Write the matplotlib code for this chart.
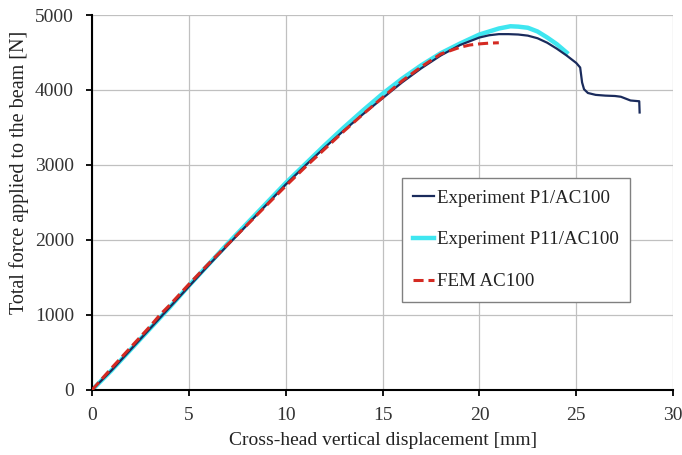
import matplotlib
matplotlib.use("Agg")
import matplotlib.pyplot as plt

# Experiment P1/AC100
p1_x = [0, 1, 2, 3, 4, 5, 6, 7, 8, 9, 10, 11, 12, 13, 14, 15, 16, 17, 18, 19, 20,
        20.5, 21, 21.5, 22, 22.5, 23, 23.5, 24, 24.5, 25, 25.2, 25.3, 25.4, 25.6,
        26, 26.5, 27, 27.3, 27.5, 27.8, 28.25, 28.27]
p1_y = [0, 260, 540, 820, 1100, 1380, 1660, 1930, 2200, 2470, 2740, 2990, 3230, 3460,
        3680, 3890, 4100, 4290, 4460, 4600, 4700, 4730, 4745, 4745, 4740, 4725, 4690,
        4630, 4550, 4460, 4360, 4300, 4100, 4010, 3960, 3935, 3925, 3920, 3910, 3890,
        3860, 3850, 3700]

# Experiment P11/AC100
p11_x = [0, 1, 2, 3, 4, 5, 6, 7, 8, 9, 10, 11, 12, 13, 14, 15, 16, 17, 18, 19, 20,
         21, 21.6, 22, 22.5, 23, 23.5, 24, 24.5]
p11_y = [0, 260, 540, 820, 1100, 1390, 1670, 1950, 2220, 2490, 2760, 3010, 3260, 3500,
         3730, 3950, 4150, 4330, 4490, 4620, 4740, 4820, 4850, 4845, 4830, 4780, 4700,
         4610, 4500]

# FEM AC100
fem_x = [0, 1, 2, 3, 3.5, 4, 5, 6, 7, 8, 9, 10, 11, 12, 13, 14, 15, 16, 17, 18, 19,
         19.5, 20, 20.5, 21]
fem_y = [0, 290, 570, 850, 1000, 1130, 1410, 1680, 1940, 2200, 2460, 2720, 2970, 3210,
         3450, 3680, 3900, 4120, 4310, 4480, 4570, 4600, 4615, 4625, 4630]

labels = ["Experiment P1/AC100", "Experiment P11/AC100", "FEM AC100"]
x_label = "Cross-head vertical displacement [mm]"
y_label = "Total force applied to the beam [N]"

plt.rcParams['font.family'] = ['Liberation Serif', 'DejaVu Serif']

fig = plt.figure(figsize=(6.82, 4.55), dpi=100)
ax = fig.add_axes([0.135, 0.143, 0.852, 0.824])

ax.plot(p1_x, p1_y, color='#1a2b5c', lw=1.6, label=labels[0], zorder=3)
ax.plot(p11_x, p11_y, color='#3fe6f0', lw=3.2, label=labels[1], zorder=2.5)
ax.plot(fem_x, fem_y, color='#d42a22', lw=2.2, ls=(0, (3.3, 1.6)), label=labels[2], zorder=4)

ax.set_xlim(0, 30)
ax.set_ylim(0, 5000)
ax.set_xticks(range(0, 31, 5))
ax.set_yticks(range(0, 5001, 1000))
ax.grid(True, color='#c0c0c0', lw=0.9)
ax.set_axisbelow(True)
for s in ['top', 'right']:
    ax.spines[s].set_visible(False)
for s in ['left', 'bottom']:
    ax.spines[s].set_linewidth(1.5)
    ax.spines[s].set_color('black')
ax.tick_params(direction='out', length=4, width=1.3, labelsize=14, colors='black',
               labelcolor='#333333')
ax.tick_params(axis='x', pad=8)
ax.tick_params(axis='y', pad=9)
ax.set_xlabel(x_label, fontsize=14, labelpad=6, color='#222222')
ax.set_ylabel(y_label, fontsize=14.5, labelpad=5, color='#222222')
ax.yaxis.set_label_coords(-0.108, 0.58)

leg = ax.legend(loc='upper left', bbox_to_anchor=(0.533, 0.565), fontsize=13.6,
                frameon=True, fancybox=False, edgecolor='#808080', framealpha=1,
                handlelength=1.1, handletextpad=0.15, labelspacing=1.3,
                borderpad=0.6, borderaxespad=0)
leg.get_frame().set_linewidth(1.0)
for t in leg.get_texts():
    t.set_color('#222222')

fig.savefig('out.png', dpi=100)
